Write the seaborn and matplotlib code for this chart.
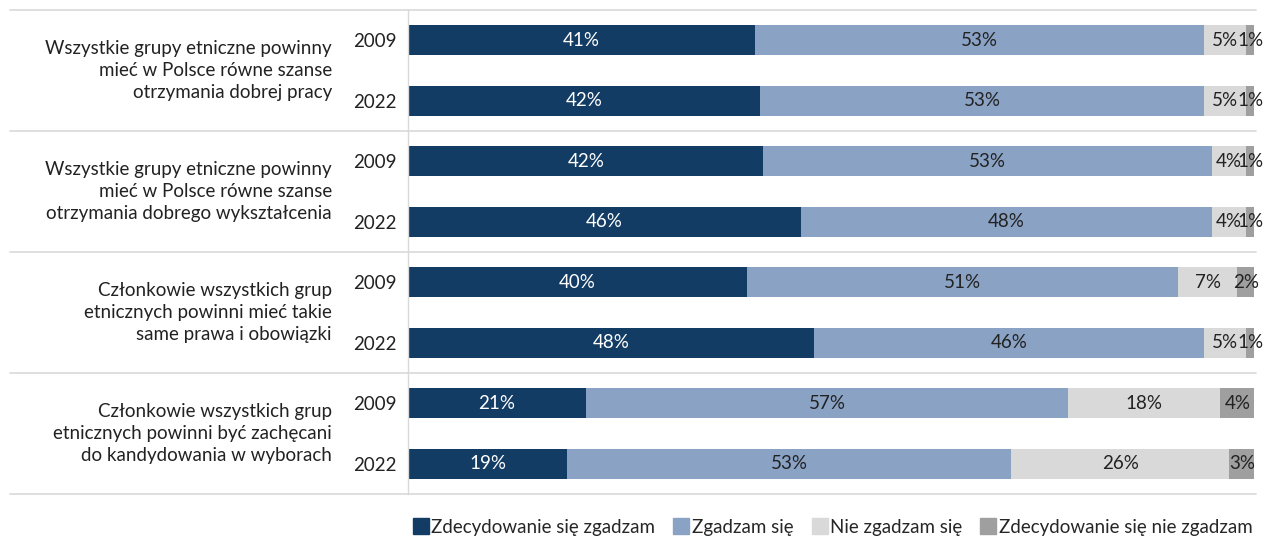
import matplotlib
matplotlib.use("Agg")
import matplotlib.pyplot as plt
import seaborn as sns
import pandas as pd
import numpy as np
from matplotlib.lines import Line2D

sns.set_theme(style="white")
plt.rcParams['font.family'] = ['Lato', 'DejaVu Sans']

statements = [
    "Wszystkie grupy etniczne powinny\nmieć w Polsce równe szanse\notrzymania dobrej pracy",
    "Wszystkie grupy etniczne powinny\nmieć w Polsce równe szanse\notrzymania dobrego wykształcenia",
    "Członkowie wszystkich grup\netnicznych powinni mieć takie\nsame prawa i obowiązki",
    "Członkowie wszystkich grup\netnicznych powinni być zachęcani\ndo kandydowania w wyborach",
]
years = ["2009", "2022"]
series = ["Zdecydowanie się zgadzam", "Zgadzam się", "Nie zgadzam się",
          "Zdecydowanie się nie zgadzam"]
strongly_agree = [41, 42, 42, 46, 40, 48, 21, 19]
agree = [53, 53, 53, 48, 51, 46, 57, 53]
disagree = [5, 5, 4, 4, 7, 5, 18, 26]
strongly_disagree = [1, 1, 1, 1, 2, 1, 4, 3]
colors = ["#133c64", "#8aa2c4", "#d9d9d9", "#9f9f9f"]

FS = 13.5
rows = [f"{i}-{y}" for i in range(len(statements)) for y in years]
vals = np.array([strongly_agree, agree, disagree, strongly_disagree], dtype=float)
shares = vals / vals.sum(axis=0) * 100  # bars fill 100% of each row
cum = np.cumsum(shares, axis=0)
left = cum - shares

fig = plt.figure(figsize=(12.66, 5.39), dpi=100)
W, H = 1266, 539
ax = fig.add_axes([408 / W, 1 - 494 / H, (1256 - 408) / W, (494 - 10) / H])

for k in range(3, -1, -1):
    df = pd.DataFrame({"row": rows, "v": cum[k]})
    sns.barplot(data=df, y="row", x="v", orient="h", color=colors[k],
                width=0.5, saturation=1, ax=ax, linewidth=0, order=rows)

for k in range(4):
    for j in range(len(rows)):
        c = left[k, j] + shares[k, j] / 2
        ax.text(c, j, f"{int(vals[k, j])}%", ha="center", va="center",
                fontsize=FS, color="white" if k == 0 else "#222222")

ax.set_xlim(0, 100.2)
ax.set_ylim(len(rows) - 0.5, -0.5)
ax.set_xlabel("")
ax.set_ylabel("")
ax.set_xticks([])
ax.set_yticks(range(len(rows)))
ax.set_yticklabels([r.split("-")[1] for r in rows], fontsize=FS, color="#222222")
ax.tick_params(axis="y", length=0, pad=8)
for s in ["top", "right", "bottom"]:
    ax.spines[s].set_visible(False)
ax.spines["left"].set_color("#d9d9d9")
ax.spines["left"].set_linewidth(1)

xmin = (10 - 408) / (1256 - 408)
for g in range(len(statements) + 1):
    ax.axhline(g * 2 - 0.5, xmin=xmin, xmax=1, color="#d9d9d9", lw=1.2, clip_on=False)

for g, st in enumerate(statements):
    ax.text(-(408 - 332) / (1256 - 408), g * 2 + 0.5, st, transform=ax.get_yaxis_transform(),
            ha="right", va="center", fontsize=FS, color="#222222", linespacing=1.38)

handles = [Line2D([0], [0], marker="s", linestyle="", markersize=11,
                  markerfacecolor=c, markeredgecolor=c) for c in colors]
fig.legend(handles, series, loc="center right", bbox_to_anchor=(1260 / W, 1 - 527 / H),
           ncol=4, frameon=False, fontsize=FS, handletextpad=0.05, columnspacing=0.9,
           handlelength=1.0, borderaxespad=0)

fig.savefig("out.png", dpi=100)
